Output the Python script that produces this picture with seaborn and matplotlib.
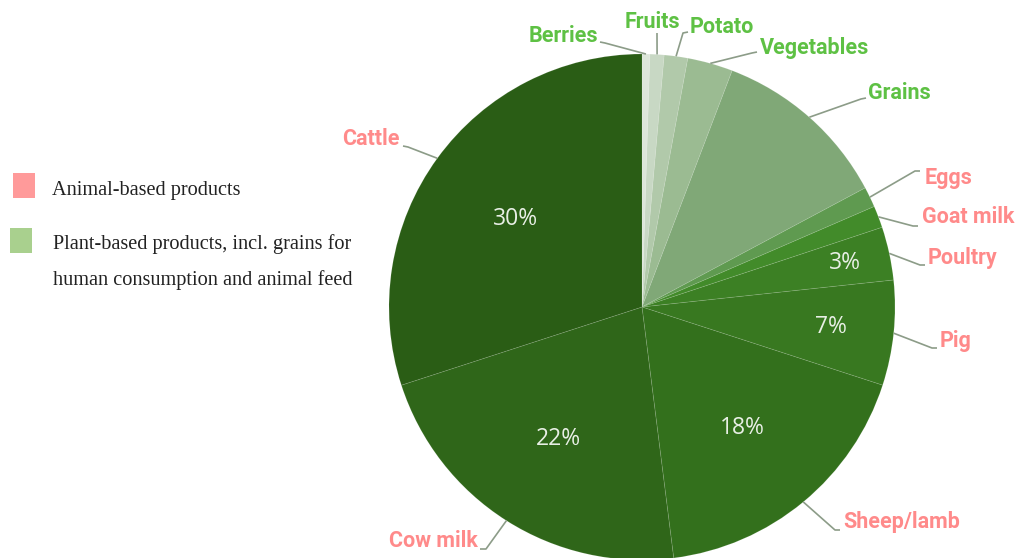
import math
import matplotlib
matplotlib.use("Agg")
import matplotlib.pyplot as plt
from matplotlib.patches import Rectangle
import seaborn as sns

# ---------------- data ----------------
categories = ["Berries", "Fruits", "Potato", "Vegetables", "Grains", "Eggs",
              "Goat milk", "Poultry", "Pig", "Sheep/lamb", "Cow milk", "Cattle"]
shares = [0.5, 0.9, 1.5, 2.9, 11.4, 1.3, 1.4, 3.4, 6.7, 18.0, 22.0, 30.0]
groups = ["plant", "plant", "plant", "plant", "plant", "animal",
          "animal", "animal", "animal", "animal", "animal", "animal"]
legend_groups = ["animal", "plant"]
legend_labels = ["Animal-based products",
                 "Plant-based products, incl. grains for\nhuman consumption and animal feed"]

# ---------------- style ----------------
slice_colors = ["#dde6da", "#c8d8c4", "#b1c9aa", "#9bbb92", "#80a877", "#5f9a50",
                "#428b2a", "#3c8024", "#387820", "#33701c", "#2f6619", "#2a5d15"]
group_text = {"plant": "#5ec144", "animal": "#ff8a8a"}
group_patch = {"animal": "#ff9a9a", "plant": "#a9d08e"}
leader_col = "#8c9c88"

sns.set_theme(style="white")
label_font = ["Roboto", "DejaVu Sans"]
pct_font = ["Open Sans", "DejaVu Sans"]
legend_font = ["Liberation Serif", "DejaVu Serif"]

W, H = 1017, 558
fig = plt.figure(figsize=(W / 100, H / 100), dpi=100)
ax = fig.add_axes([0, 0, 1, 1])

def Y(y):
    return H - y

cx, cy, R = 642, Y(307), 253
wedges, _ = ax.pie(shares, colors=slice_colors, startangle=90, counterclock=False,
                   center=(cx, cy), radius=R,
                   wedgeprops=dict(linewidth=0.6, edgecolor=(1, 1, 1, 0.12)))
ax.set_xlim(0, W)
ax.set_ylim(0, H)
ax.set_aspect("equal")
ax.axis("off")

# percentage labels (distance as fraction of radius)
pct_dist = {"Cattle": 0.62, "Cow milk": 0.62, "Sheep/lamb": 0.62, "Pig": 0.75, "Poultry": 0.82}
pct_shift = {"Cattle": 4}
for w, cat, v in zip(wedges, categories, shares):
    if cat in pct_dist:
        a = math.radians((w.theta1 + w.theta2) / 2)
        d = pct_dist[cat] * R
        ax.text(cx + d * math.cos(a), cy + d * math.sin(a) - pct_shift.get(cat, 0),
                f"{round(v)}%", ha="center", va="center", fontsize=16.5,
                color="#e8efe5", family=pct_font)

# outer labels: text anchor (x, y, ha) and leader attach points (image px)
label_pos = {
    "Berries":    ((598, 36, "right"), (600, 42), (605, 43)),
    "Fruits":     ((652, 22, "center"), (657, 33), (657, 34)),
    "Potato":     ((690, 27, "left"), (688, 32), (683, 33)),
    "Vegetables": ((760, 48, "left"), (757, 52), (752, 53)),
    "Grains":     ((868, 93, "left"), (866, 98), (861, 99)),
    "Eggs":       ((925, 178, "left"), (920, 171), (915, 171)),
    "Goat milk":  ((922, 217, "left"), (918, 226), (913, 226)),
    "Poultry":    ((928, 258, "left"), (925, 265), (920, 265)),
    "Pig":        ((940, 341, "left"), (937, 348), (932, 348)),
    "Sheep/lamb": ((843, 522, "left"), (840, 530), (835, 530)),
    "Cow milk":   ((478, 541, "right"), (480, 549), (486, 549)),
    "Cattle":     ((400, 139, "right"), (403, 146), (408, 147)),
}
for w, cat, g in zip(wedges, categories, groups):
    (tx, ty, ha), p1, p2 = label_pos[cat]
    a = math.radians((w.theta1 + w.theta2) / 2)
    ex, ey = cx + R * math.cos(a), cy + R * math.sin(a)
    ax.plot([p1[0], p2[0], ex], [Y(p1[1]), Y(p2[1]), ey], color=leader_col,
            lw=1.2, solid_capstyle="butt", zorder=1)
    ax.text(tx, Y(ty), cat, ha=ha, va="center", fontsize=15.5, fontweight="bold",
            color=group_text[g], family=label_font)

# legend
leg_layout = [((13, 173), (52, 190)), ((10, 228), (53, 262))]
for ((bx, by), (lx, ly)), g, lab in zip(leg_layout, legend_groups, legend_labels):
    ax.add_patch(Rectangle((bx, Y(by + 25)), 22, 25, color=group_patch[g], lw=0))
    ax.text(lx, Y(ly), lab, ha="left", va="center", fontsize=14.6, color="#222222",
            family=legend_font, linespacing=2.05)

fig.savefig("out.png", dpi=100)
